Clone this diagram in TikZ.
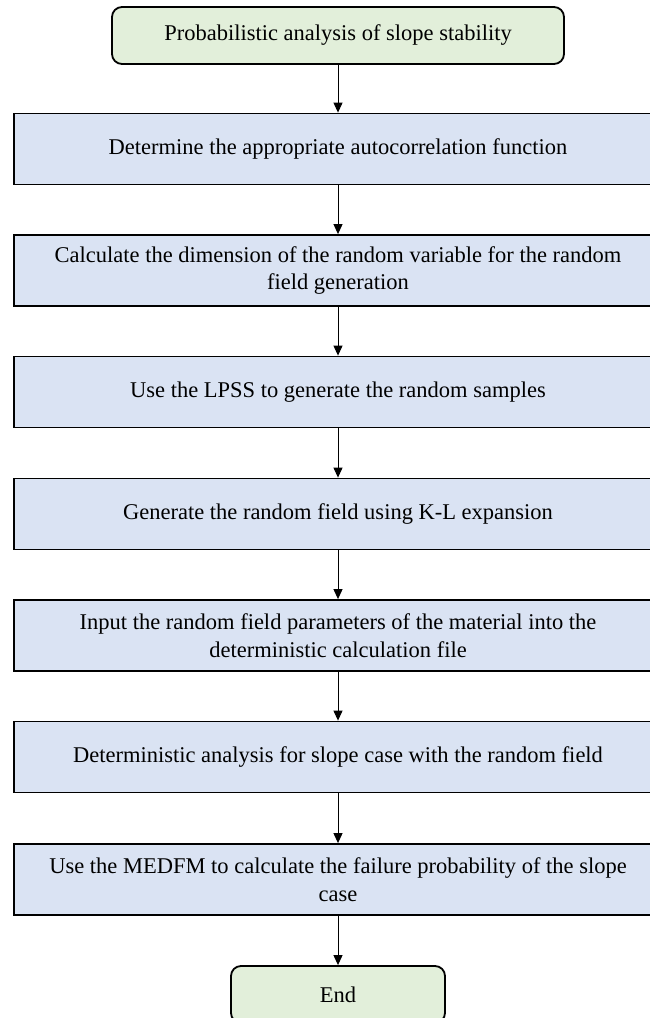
\documentclass[tikz,border=0pt]{standalone}
\usepackage{fontspec}
\setmainfont{Liberation Serif}
\usetikzlibrary{arrows.meta}
\definecolor{termfill}{HTML}{E2EFDA}
\definecolor{procfill}{HTML}{DAE3F3}
\begin{document}
\begin{tikzpicture}[x=1bp,y=-1bp,
  every node/.style={font=\fontsize{22.5bp}{27.5bp}\selectfont, align=center, inner sep=0pt},
  termbox/.style={draw=black, line width=1.8bp, fill=termfill, rounded corners=10bp, minimum height=57bp},
  procbox/.style={draw=black, line width=1.8bp, fill=procfill, minimum width=648bp, minimum height=71bp},
  flow/.style={-{Triangle[length=10bp,width=9bp]}, line width=1bp}]
\clip (0,0) rectangle (650,1018);
\node[termbox, minimum width=452bp] (start) at (338,35.5) {Probabilistic analysis of slope stability};
\node[procbox] (b1) at (338,149) {Determine the appropriate autocorrelation function};
\node[procbox] (b2) at (338,270.5) {Calculate the dimension of the random variable for the random\\field generation};
\node[procbox] (b3) at (338,392) {Use the LPSS to generate the random samples};
\node[procbox] (b4) at (338,514) {Generate the random field using K-L expansion};
\node[procbox] (b5) at (338,635.5) {Input the random field parameters of the material into the\\deterministic calculation file};
\node[procbox] (b6) at (338,757) {Deterministic analysis for slope case with the random field};
\node[procbox] (b7) at (338,879.5) {Use the MEDFM to calculate the failure probability of the slope\\case};
\node[termbox, minimum width=214bp] (end) at (338,994.5) {End};
\draw[flow] (start) -- (b1);
\draw[flow] (b1) -- (b2);
\draw[flow] (b2) -- (b3);
\draw[flow] (b3) -- (b4);
\draw[flow] (b4) -- (b5);
\draw[flow] (b5) -- (b6);
\draw[flow] (b6) -- (b7);
\draw[flow] (b7) -- (end);
\end{tikzpicture}
\end{document}
